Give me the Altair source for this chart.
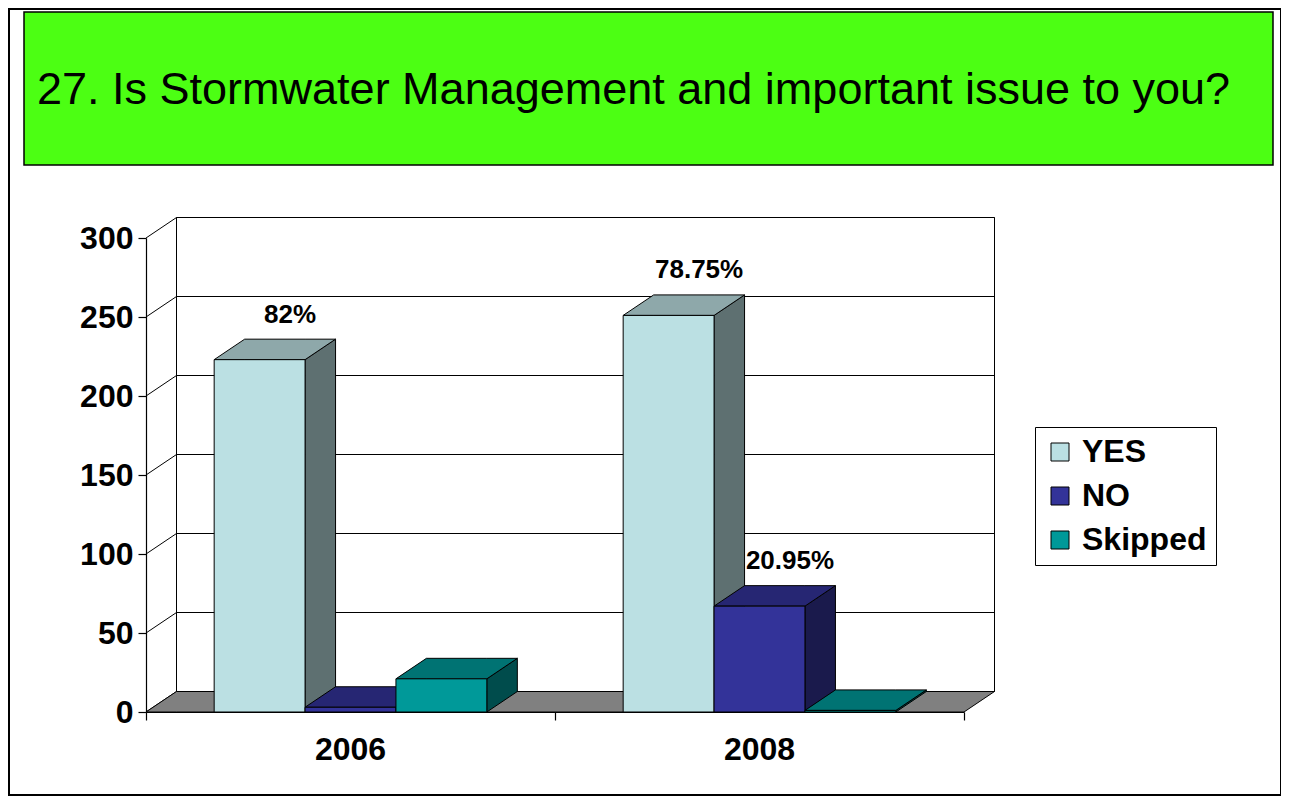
import altair as alt
import pandas as pd

# ---------------- data ----------------
years = ["2006", "2008"]
series = ["YES", "NO", "Skipped"]
yes_counts = [223, 251]
no_counts = [3, 67]
skipped_counts = [21, 1]
yes_labels = ["82%", "78.75%"]
no_labels = ["", "20.95%"]
skipped_labels = ["", ""]
y_ticks = [0, 50, 100, 150, 200, 250, 300]
title_text = "27. Is Stormwater Management and important issue to you?"

# ---------------- style ----------------
front_colors = ["#BBE0E3", "#333399", "#009999"]
top_colors = ["#8EA8AA", "#262673", "#007373"]
side_colors = ["#5E7071", "#1A1A4C", "#004C4C"]
FONT = "Liberation Sans"

PLOT_W, PLOT_H = 818, 474
Y_MAX = 300
DEPTH_X_PX, DEPTH_Y_PX = 30.5, 20.5
DX = DEPTH_X_PX / (PLOT_W / len(years))
DY = DEPTH_Y_PX / (PLOT_H / Y_MAX)
GAP = 1 / 6
BAR_W = (1 - 2 * GAP) / len(series)

values = [yes_counts, no_counts, skipped_counts]
labels = [yes_labels, no_labels, skipped_labels]

front_rows, top_rows, side_rows, label_rows = [], [], [], []
for g, yr in enumerate(years):
    for i, s in enumerate(series):
        v = values[i][g]
        x0 = g + GAP + i * BAR_W
        x1 = x0 + BAR_W
        bid = f"{yr}-{s}"
        front_rows.append(dict(bar=bid, series=s, x=x0, x2=x1, y=0, y2=v))
        for px, lo, hi in [(x0, v, v), (x0 + DX, v, v + DY), (x1, v, v + DY), (x1 + DX, v + DY, v + DY)]:
            top_rows.append(dict(bar=bid, x=px, y=lo, y2=hi, shade=top_colors[i]))
        for px, lo, hi in [(x1, 0, v), (x1 + DX, DY, v + DY)]:
            side_rows.append(dict(bar=bid, x=px, y=lo, y2=hi, shade=side_colors[i]))
        if labels[i][g]:
            label_rows.append(dict(x=(x0 + x1) / 2 + DX, y=v, text=labels[i][g]))

front_df = pd.DataFrame(front_rows)
top_df = pd.DataFrame(top_rows)
side_df = pd.DataFrame(side_rows)
label_df = pd.DataFrame(label_rows)
cat_df = pd.DataFrame({"x": [g + 0.5 for g in range(len(years))], "y": [0] * len(years), "text": years})

n = len(years)
wall_df = pd.DataFrame({"x": [DX], "x2": [n + DX], "y": [DY], "y2": [Y_MAX + DY]})
grid_df = pd.DataFrame({"x": [DX] * len(y_ticks), "x2": [n + DX] * len(y_ticks),
                        "y": [t + DY for t in y_ticks]})
diag_df = pd.DataFrame({"x": [0] * len(y_ticks), "x2": [DX] * len(y_ticks),
                        "y": y_ticks, "y2": [t + DY for t in y_ticks]})
floor_df = pd.DataFrame({"x": [0, DX, n, n + DX], "y": [0, 0, 0, DY], "y2": [0, DY, DY, DY]})
one = pd.DataFrame({"k": [0]})

xs = alt.Scale(domain=[0, n], nice=False, zero=False)
ys = alt.Scale(domain=[0, Y_MAX], nice=False, zero=False)

x_axis = alt.Axis(values=[0, 1, 2], labels=False, grid=False, tickSize=8, tickColor="black",
                  tickWidth=1.2, domainColor="black", domainWidth=1.2, title=None, zindex=1)
y_axis = alt.Axis(values=y_ticks, grid=False, tickSize=8, tickColor="black", tickWidth=1.2,
                  domainColor="black", domainWidth=1.2, labelFont=FONT, labelFontSize=32,
                  labelFontWeight="bold", labelColor="black", labelPadding=5, title=None, zindex=1)


def X(f="x"):
    return alt.X(f"{f}:Q", scale=xs, axis=x_axis)


def Y(f="y"):
    return alt.Y(f"{f}:Q", scale=ys, axis=y_axis)


# ---------------- decorations ----------------
border = alt.Chart(one).mark_rect(fill=None, stroke="black", strokeWidth=2).encode(
    x=alt.value(-137), x2=alt.value(1135), y=alt.value(-229), y2=alt.value(557))
title_box = alt.Chart(one).mark_rect(fill="#4CFF13", stroke="black", strokeWidth=1.5).encode(
    x=alt.value(-122), x2=alt.value(1127), y=alt.value(-226), y2=alt.value(-73))
title = alt.Chart(one).mark_text(align="left", baseline="middle", font=FONT, fontSize=45,
                                 color="black", text=title_text).encode(
    x=alt.value(-109), y=alt.value(-148))

# ---------------- 3D frame ----------------
wall = alt.Chart(wall_df).mark_rect(fill="white", stroke="black", strokeWidth=1).encode(
    x=X("x"), x2="x2:Q", y=Y("y"), y2="y2:Q")
grid = alt.Chart(grid_df).mark_rule(color="black", strokeWidth=1).encode(
    x=X("x"), x2="x2:Q", y=Y("y"))
diag = alt.Chart(diag_df).mark_rule(color="black", strokeWidth=1).encode(
    x=X("x"), x2="x2:Q", y=Y("y"), y2="y2:Q")
floor = alt.Chart(floor_df).mark_area(fill="#808080", stroke="black", strokeWidth=1,
                                      interpolate="linear").encode(
    x=X("x"), y=Y("y"), y2="y2:Q")

# ---------------- bars ----------------
sides = alt.Chart(side_df).mark_area(stroke="black", strokeWidth=1, interpolate="linear",
                                     opacity=1).encode(
    x=X("x"), y=Y("y"), y2="y2:Q", detail="bar:N",
    color=alt.Color("shade:N", scale=None))
tops = alt.Chart(top_df).mark_area(stroke="black", strokeWidth=1, interpolate="linear",
                                   opacity=1).encode(
    x=X("x"), y=Y("y"), y2="y2:Q", detail="bar:N",
    color=alt.Color("shade:N", scale=None))
fronts = alt.Chart(front_df).mark_rect(stroke="black", strokeWidth=1).encode(
    x=X("x"), x2="x2:Q", y=Y("y"), y2="y2:Q",
    fill=alt.Fill("series:N", scale=alt.Scale(domain=series, range=front_colors),
                  legend=alt.Legend(orient="none", legendX=889, legendY=189, title=None,
                                    symbolType="square", symbolSize=324,
                                    symbolStrokeColor="black", symbolStrokeWidth=1,
                                    symbolOpacity=1,
                                    labelFont=FONT, labelFontSize=32, labelFontWeight="bold",
                                    labelColor="black", labelOffset=6, labelLimit=0,
                                    rowPadding=12, padding=9,
                                    fillColor="white", strokeColor="black")))

value_labels = alt.Chart(label_df).mark_text(font=FONT, fontSize=26, fontWeight="bold",
                                            color="black", dy=-45, baseline="middle").encode(
    x=X("x"), y=Y("y"), text="text:N")
cat_labels = alt.Chart(cat_df).mark_text(font=FONT, fontSize=32, fontWeight="bold",
                                         color="black", dy=38, baseline="middle").encode(
    x=X("x"), y=Y("y"), text="text:N")

chart = alt.layer(
    border, title_box, title, wall, grid, diag, floor, sides, tops, fronts,
    value_labels, cat_labels
).properties(
    width=PLOT_W, height=PLOT_H,
    autosize=alt.AutoSizeParams(type="none"),
    padding={"left": 138, "top": 230, "right": 317, "bottom": 84},
    background="white",
).configure_view(stroke=None)

chart.save("out.html", embed_options={"renderer": "svg", "actions": False})
